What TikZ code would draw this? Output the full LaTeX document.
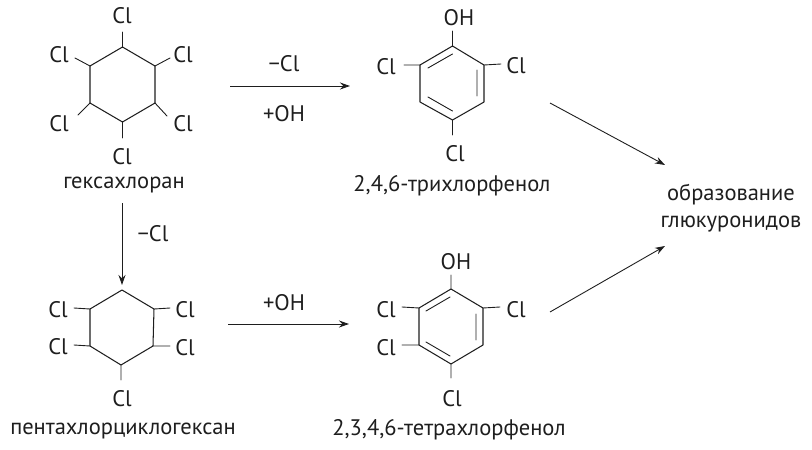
\documentclass[tikz,border=0pt]{standalone}
\usepackage{fontspec}
\setmainfont{PT Sans}
\usetikzlibrary{arrows.meta}
\definecolor{ink}{HTML}{1E1E1E}
\tikzset{
  bond/.style={draw=ink,line width=1.05pt,line cap=round,line join=round},
  dblbond/.style={draw=ink,line width=0.9pt,line cap=round},
  reaction/.style={draw=ink,line width=0.9pt,-{Stealth[length=10pt,width=7pt]}},
  lbl/.style={inner sep=0pt,text=ink,yshift=-1.5pt,font=\fontsize{22.5}{27}\selectfont},
  cname/.style={inner sep=0pt,text=ink,font=\fontsize{22.5}{27}\selectfont,align=center}
}
\begin{document}
\begin{tikzpicture}[x=1pt,y=-1pt]
\useasboundingbox (0,0) rectangle (812,450);
% hexachlorane
\coordinate (a1) at (122.5,47);
\coordinate (a2) at (155,66);
\coordinate (a3) at (155,103);
\coordinate (a4) at (122.5,122);
\coordinate (a5) at (90,103);
\coordinate (a6) at (90,66);
\coordinate (as1) at (122.5,32);
\coordinate (as2) at (170,58);
\coordinate (as3) at (167,116);
\coordinate (as4) at (122.5,138);
\coordinate (as5) at (78,115);
\coordinate (as6) at (75,58);
\draw[bond] (a1)--(a2)--(a3)--(a4)--(a5)--(a6)--cycle;
\draw[dblbond] (a1)--(as1) (a2)--(as2) (a3)--(as3) (a4)--(as4) (a5)--(as5) (a6)--(as6);
\node[lbl] (acl1) at (122,14) {Cl};
\node[lbl] (acl2) at (183,53) {Cl};
\node[lbl] (acl3) at (183,122) {Cl};
\node[lbl] (acl4) at (122,155) {Cl};
\node[lbl] (acl5) at (59,122) {Cl};
\node[lbl] (acl6) at (59,53) {Cl};
\node[cname] (aname) at (124,185) {гексахлоран};
% trichlorophenol
\coordinate (b1) at (452.5,46);
\coordinate (b2) at (484,65);
\coordinate (b3) at (484,102);
\coordinate (b4) at (452.5,120);
\coordinate (b5) at (420,102);
\coordinate (b6) at (420,65);
\coordinate (bs1) at (452.5,31);
\coordinate (bs2) at (501,64);
\coordinate (bs4) at (452.5,135);
\coordinate (bs6) at (404,65);
\draw[bond] (b1)--(b2)--(b3)--(b4)--(b5)--(b6)--cycle;
\draw[dblbond] (428,68)--(452.5,54) (477,70)--(477,96) (428,97)--(452.5,111);
\draw[dblbond] (b1)--(bs1) (b2)--(bs2) (b4)--(bs4) (b6)--(bs6);
\node[lbl] (boh) at (459,16) {OH};
\node[lbl] (bcl2) at (516,64) {Cl};
\node[lbl] (bcl4) at (455,152) {Cl};
\node[lbl] (bcl6) at (386,65) {Cl};
\node[cname] (bname) at (452,186) {2,4,6-трихлорфенол};
% pentachlorocyclohexane
\coordinate (c1) at (122,290);
\coordinate (c2) at (154,309);
\coordinate (c3) at (153,346);
\coordinate (c4) at (121,365);
\coordinate (c5) at (90,346);
\coordinate (c6) at (90,309);
\coordinate (cs2) at (170,308);
\coordinate (cs3) at (170,346);
\coordinate (cs4) at (121,380);
\coordinate (cs5) at (74,345);
\coordinate (cs6) at (74,308);
\draw[bond] (c1)--(c2)--(c3)--(c4)--(c5)--(c6)--cycle;
\draw[dblbond] (c2)--(cs2) (c3)--(cs3) (c4)--(cs4) (c5)--(cs5) (c6)--(cs6);
\node[lbl] (ccl2) at (185,308) {Cl};
\node[lbl] (ccl3) at (185,346) {Cl};
\node[lbl] (ccl4) at (122,397) {Cl};
\node[lbl] (ccl5) at (58,345) {Cl};
\node[lbl] (ccl6) at (58,308) {Cl};
\node[cname] (cnm) at (123,431) {пентахлорциклогексан};
% tetrachlorophenol
\coordinate (d1) at (451,289);
\coordinate (d2) at (483,308);
\coordinate (d3) at (483,345);
\coordinate (d4) at (451,364);
\coordinate (d5) at (419,345);
\coordinate (d6) at (419,308);
\coordinate (ds1) at (451,275);
\coordinate (ds2) at (500,307);
\coordinate (ds4) at (451,378);
\coordinate (ds5) at (402,345);
\coordinate (ds6) at (402,307);
\draw[bond] (d1)--(d2)--(d3)--(d4)--(d5)--(d6)--cycle;
\draw[dblbond] (426,311)--(450,297) (476,314)--(476,340) (426,342)--(450,356);
\draw[dblbond] (d1)--(ds1) (d2)--(ds2) (d4)--(ds4) (d5)--(ds5) (d6)--(ds6);
\node[lbl] (doh) at (456,260) {OH};
\node[lbl] (dcl2) at (516,308) {Cl};
\node[lbl] (dcl4) at (452,397) {Cl};
\node[lbl] (dcl5) at (386,346) {Cl};
\node[lbl] (dcl6) at (386,308) {Cl};
\node[cname] (dname) at (449,430) {2,3,4,6-тетрахлорфенол};
% product
\node[cname] (prod) at (731,208) {образование\\глюкуронидов};
% arrows
\coordinate (r1s) at (230,86);
\coordinate (r1e) at (350,86);
\coordinate (r2s) at (228,324);
\coordinate (r2e) at (349,324);
\coordinate (r3s) at (122,203);
\coordinate (r3e) at (122,285);
\coordinate (r4s) at (550,103);
\coordinate (r4e) at (665,165);
\coordinate (r5s) at (550,312);
\coordinate (r5e) at (665,246);
\draw[reaction] (r1s)--(r1e);
\draw[reaction] (r2s)--(r2e);
\draw[reaction] (r3s)--(r3e);
\draw[reaction] (r4s)--(r4e);
\draw[reaction] (r5s)--(r5e);
\node[lbl] (t1) at (284,62) {−Cl};
\node[lbl] (t2) at (284,112) {+OH};
\node[lbl] (t3) at (153,232) {−Cl};
\node[lbl] (t4) at (284,301) {+OH};
\end{tikzpicture}
\end{document}
